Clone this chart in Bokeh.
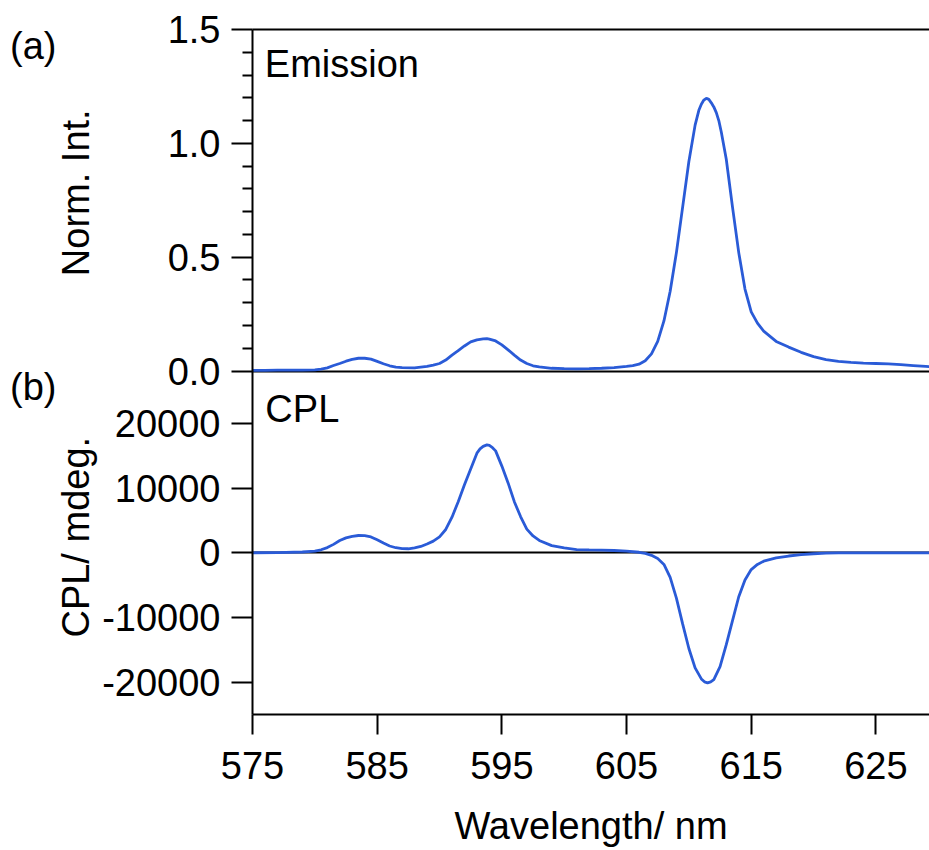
from bokeh.plotting import figure
from bokeh.models import Range1d, LinearAxis, FixedTicker, Label
from bokeh.embed import file_html
from bokeh.resources import INLINE

FONT = "Liberation Sans"
FS = "38px"
COLOR = "#2a5bd7"

# ---------------- data ----------------
em_wl = [575, 576, 577, 578, 579, 580, 580.5, 581, 581.5, 582, 582.5, 583, 583.5, 584,
         584.5, 585, 585.5, 586, 586.5, 587, 588, 589, 589.5, 590, 590.5, 591, 591.5,
         592, 592.5, 593, 593.5, 593.8, 594, 594.5, 595, 595.5, 596, 596.5, 597, 597.5,
         598, 599, 600, 601, 602, 603, 604, 605, 605.5, 606, 606.5, 607, 607.5, 608,
         608.5, 609, 609.5, 610, 610.5, 610.8, 611, 611.2, 611.4, 611.6, 611.8, 612,
         612.2, 612.4, 612.6, 613, 613.5, 614, 614.5, 615, 615.5, 616, 617, 618, 619,
         620, 621, 622, 623, 624, 625, 626, 627, 628, 629, 629.5]
em_int = [0.003, 0.003, 0.004, 0.004, 0.004, 0.005, 0.008, 0.014, 0.024, 0.033, 0.043,
          0.051, 0.056, 0.056, 0.052, 0.042, 0.032, 0.023, 0.017, 0.015, 0.014, 0.020,
          0.026, 0.033, 0.048, 0.070, 0.090, 0.110, 0.128, 0.137, 0.141, 0.142, 0.140,
          0.132, 0.115, 0.093, 0.070, 0.048, 0.033, 0.023, 0.018, 0.012, 0.010, 0.009,
          0.010, 0.012, 0.015, 0.020, 0.024, 0.030, 0.045, 0.075, 0.130, 0.220, 0.350,
          0.520, 0.720, 0.920, 1.080, 1.145, 1.172, 1.190, 1.198, 1.193, 1.178, 1.160,
          1.135, 1.100, 1.050, 0.930, 0.720, 0.520, 0.360, 0.260, 0.210, 0.175, 0.130,
          0.105, 0.082, 0.063, 0.050, 0.042, 0.038, 0.035, 0.033, 0.031, 0.028, 0.024,
          0.020, 0.018]

cpl_wl = [575, 577, 579, 580, 580.5, 581, 581.5, 582, 582.5, 583, 583.5, 584, 584.5,
          585, 585.5, 586, 586.5, 587, 587.5, 588, 588.5, 589, 589.5, 590, 590.5, 591,
          591.5, 592, 592.5, 593, 593.25, 593.5, 593.8, 594, 594.25, 594.5, 595, 595.5,
          596, 596.5, 597, 597.5, 598, 599, 600, 601, 602, 603, 604, 605, 606, 606.5,
          607, 607.5, 608, 608.5, 609, 609.5, 610, 610.5, 611, 611.25, 611.5, 611.75,
          612, 612.5, 613, 613.5, 614, 614.5, 615, 615.5, 616, 617, 618, 619, 620, 621,
          622, 623, 625, 627, 629.5]
cpl_val = [0, 30, 120, 250, 460, 800, 1300, 1900, 2300, 2550, 2670, 2650, 2450, 2000,
           1500, 1050, 780, 640, 620, 750, 980, 1350, 1800, 2450, 3600, 5500, 7900,
           10500, 12950, 15400, 16050, 16450, 16680, 16600, 16250, 15750, 13400, 10800,
           7900, 5600, 3650, 2600, 1900, 1100, 750, 500, 450, 420, 350, 250, 80, -100,
           -400, -900, -1800, -3800, -7000, -11000, -14800, -17800, -19500, -19950,
           -20100, -19950, -19600, -17600, -14200, -10500, -6800, -4200, -2600, -1800,
           -1300, -800, -500, -300, -150, -60, -20, 0, 0, 0, 0]

x_ticks = [575, 585, 595, 605, 615, 625]
em_ticks = [0.0, 0.5, 1.0, 1.5]
em_minor = [0.1, 0.2, 0.3, 0.4, 0.6, 0.7, 0.8, 0.9, 1.1, 1.2, 1.3, 1.4]
cpl_ticks = [-20000, -10000, 0, 10000, 20000]

X_LO, X_HI = 575, 629.3
EM_LO, EM_HI = 0.0, 1.5
CPL_LO, CPL_HI = -25000, 28100

# ---------------- layout constants ----------------
W, H = 929, 849
LEFT, TOP = 252, 29
TOP_PX, BOT_PX = 342, 344          # pixel heights of the two stacked panels
BOTTOM = H - TOP - TOP_PX - BOT_PX

# one frame holds both panels; each panel's range is stretched over the whole frame
em_ext_lo = EM_LO - (EM_HI - EM_LO) * BOT_PX / TOP_PX
cpl_ext_hi = CPL_HI + (CPL_HI - CPL_LO) * TOP_PX / BOT_PX


def cpl_to_frame(c):
    """position of a CPL value in the (default) emission-based frame coordinate"""
    return em_ext_lo + (c - CPL_LO) / (cpl_ext_hi - CPL_LO) * (EM_HI - em_ext_lo)


p = figure(width=W, height=H, x_range=Range1d(X_LO, X_HI),
           y_range=Range1d(em_ext_lo, EM_HI), output_backend="svg",
           toolbar_location=None, x_axis_location=None, y_axis_location=None,
           min_border_left=LEFT, min_border_right=0, min_border_top=TOP,
           min_border_bottom=BOTTOM, outline_line_color=None,
           background_fill_color="white", border_fill_color="white")
p.extra_y_ranges = {"cpl": Range1d(CPL_LO, cpl_ext_hi)}
p.grid.visible = False


def text_style(ax):
    ax.major_label_text_font = FONT
    ax.major_label_text_font_size = FS
    ax.major_label_text_color = "black"


# ---- left value axis: Norm. Int. ticks (top) and CPL ticks (bottom) ----
val_ticks = list(em_ticks) + [cpl_to_frame(c) for c in cpl_ticks]
val_labels = {t: f"{t:.1f}" for t in em_ticks}
val_labels.update({cpl_to_frame(c): str(c) for c in cpl_ticks})
ya = LinearAxis(ticker=FixedTicker(ticks=val_ticks, minor_ticks=em_minor),
                major_label_overrides=val_labels)
ya.axis_line_width = 2
ya.axis_line_color = "black"
ya.major_tick_line_width = 2
ya.major_tick_line_color = "black"
ya.major_tick_out = 21
ya.major_tick_in = 0
ya.minor_tick_line_width = 2
ya.minor_tick_line_color = "black"
ya.minor_tick_out = 10
ya.minor_tick_in = 0
ya.major_label_standoff = 11
text_style(ya)
p.add_layout(ya, "left")


def text_axis(positions, texts, standoff, orientation="horizontal"):
    ax = LinearAxis(ticker=FixedTicker(ticks=positions, minor_ticks=[]),
                    major_label_overrides=dict(zip(positions, texts)),
                    major_label_orientation=orientation)
    ax.axis_line_color = None
    ax.major_tick_line_color = None
    ax.minor_tick_line_color = None
    ax.major_tick_out = 0
    ax.major_tick_in = 0
    ax.major_label_standoff = standoff
    text_style(ax)
    p.add_layout(ax, "left")


# axis titles of the two panels
text_axis([0.783, cpl_to_frame(2400)], ["Norm. Int.", "CPL/ mdeg."], 2, "vertical")
# panel letters
text_axis([1.428, cpl_to_frame(25660)], ["(a)", "(b)"], -4)

# top frame line
top_line = LinearAxis(ticker=FixedTicker(ticks=[]), major_tick_out=0, major_tick_in=0,
                      minor_tick_out=0, minor_tick_in=0, major_label_standoff=0,
                      axis_line_width=2, axis_line_color="black")
p.add_layout(top_line, "above")

# bottom x axis
xa = LinearAxis(ticker=FixedTicker(ticks=x_ticks, minor_ticks=[]))
xa.axis_line_width = 2
xa.axis_line_color = "black"
xa.major_tick_line_width = 2
xa.major_tick_line_color = "black"
xa.major_tick_out = 20
xa.major_tick_in = 0
xa.minor_tick_line_color = None
text_style(xa)
xa.major_label_standoff = 17
xa.axis_label = "Wavelength/ nm"
xa.axis_label_text_font = FONT
xa.axis_label_text_font_size = FS
xa.axis_label_text_font_style = "normal"
xa.axis_label_text_color = "black"
xa.axis_label_standoff = 23
p.add_layout(xa, "below")

# zero lines of both panels
p.hspan(y=[EM_LO], line_color="black", line_width=2)
p.hspan(y=[0], y_range_name="cpl", line_color="black", line_width=2)

# curves
p.line(em_wl, em_int, line_color=COLOR, line_width=2.8)
p.line(cpl_wl, cpl_val, y_range_name="cpl", line_color=COLOR, line_width=2.8)

# panel names
p.add_layout(Label(x=575.99, y=1.349, text="Emission",
                   text_font=FONT, text_font_size=FS, text_color="black",
                   text_align="left", text_baseline="middle"))
p.add_layout(Label(x=576.03, y=22160, y_range_name="cpl", text="CPL",
                   text_font=FONT, text_font_size=FS, text_color="black",
                   text_align="left", text_baseline="middle"))

open("out.html", "w").write(file_html(p, INLINE))
